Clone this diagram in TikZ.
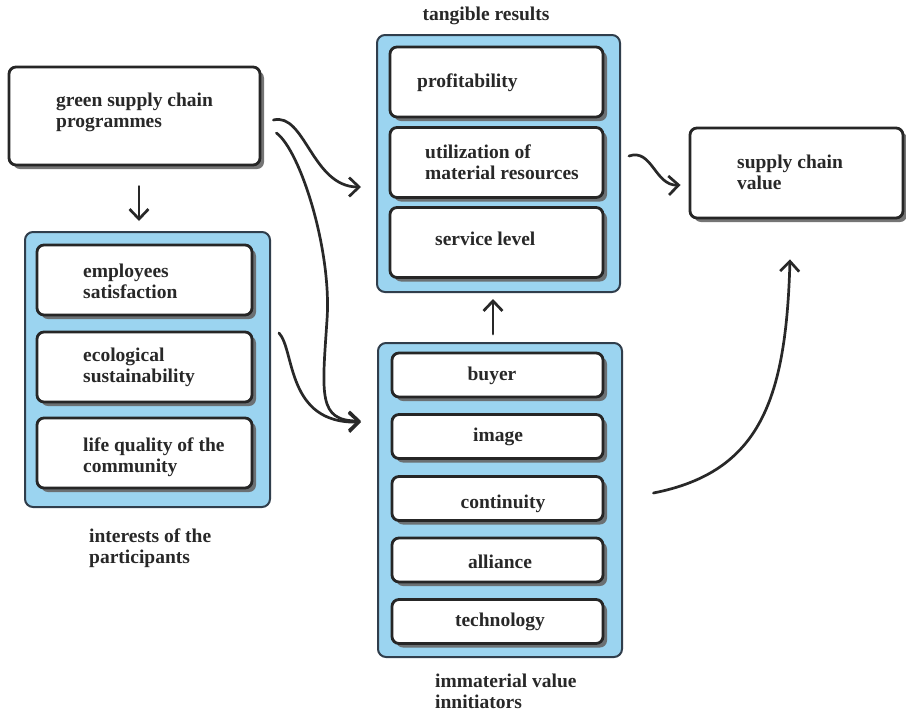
\documentclass[tikz,border=0pt]{standalone}
\usepackage{fontspec}
\setmainfont{Liberation Serif}
\usetikzlibrary{calc,shadows,arrows.meta}
\definecolor{panelblue}{RGB}{155,212,240}
\definecolor{paneledge}{RGB}{48,62,76}
\definecolor{boxedge}{RGB}{38,38,38}
\definecolor{inkcol}{RGB}{40,40,40}
\tikzset{
  panel/.style={draw=paneledge, fill=panelblue, line width=2pt, rounded corners=8pt, inner sep=0pt},
  itembox/.style={draw=boxedge, fill=white, line width=2.8pt, rounded corners=7pt, inner sep=0pt,
    drop shadow={shadow xshift=4pt, shadow yshift=-4pt, fill=black!60, opacity=0.9}},
  txt/.style={font=\bfseries, text=inkcol, align=left, inner sep=0pt},
  flow/.style={draw=inkcol, line width=2.7pt, line cap=round,
    -{Straight Barb[length=10pt,width=19pt,line width=2.7pt]}},
}
\begin{document}
\fontsize{19.5}{21}\selectfont
\begin{tikzpicture}[x=1pt,y=-1pt]
\useasboundingbox[fill=white] (0,0) rectangle (906,713);

% starting programme box
\node[itembox, minimum width=251pt, minimum height=98pt] (green) at (134.5,116) {};
\node[txt, anchor=west] (greent) at (56,112.5) {green supply chain\\programmes};

% interests of the participants
\node[panel, minimum width=245pt, minimum height=275pt] (left) at (147.5,369.5) {};
\node[itembox, minimum width=215pt, minimum height=70pt] (emp) at (144.5,280) {};
\node[itembox, minimum width=215pt, minimum height=70pt] (eco) at (144.5,367) {};
\node[itembox, minimum width=215pt, minimum height=70pt] (life) at (144.5,453) {};
\node[txt, anchor=west] (empt) at (83,281) {employees\\satisfaction};
\node[txt, anchor=west] (ecot) at (83,367.5) {ecological\\sustainability};
\node[txt, anchor=west] (lifet) at (83,457.5) {life quality of the\\community};
\node[txt, anchor=west] (leftlab) at (89,548.5) {interests of the\\participants};

% tangible results
\node[panel, minimum width=243pt, minimum height=257pt] (tang) at (498.5,163.5) {};
\node[itembox, minimum width=213pt, minimum height=70pt] (prof) at (496.5,82) {};
\node[itembox, minimum width=213pt, minimum height=70pt] (util) at (496.5,162.5) {};
\node[itembox, minimum width=213pt, minimum height=70pt] (serv) at (496.5,242.5) {};
\node[txt, anchor=west] (proft) at (417,82.5) {profitability};
\node[txt, anchor=west] (utilt) at (425,162.5) {utilization of\\material resources};
\node[txt, anchor=west] (servt) at (435,238.5) {service level};
\node[txt] (tanglab) at (486,16) {tangible results};

% immaterial value initiators
\node[panel, minimum width=244pt, minimum height=314pt] (imm) at (500,500) {};
\node[itembox, minimum width=211pt, minimum height=44pt] (buyer) at (497.5,375) {};
\node[itembox, minimum width=211pt, minimum height=44pt] (image) at (497.5,436.5) {};
\node[itembox, minimum width=211pt, minimum height=44pt] (cont) at (497.5,498.5) {};
\node[itembox, minimum width=211pt, minimum height=44pt] (alli) at (497.5,560) {};
\node[itembox, minimum width=211pt, minimum height=44pt] (tech) at (497.5,621.5) {};
\node[txt] (buyert) at (492,375.5) {buyer};
\node[txt] (imaget) at (498,437) {image};
\node[txt] (contt) at (503,504) {continuity};
\node[txt] (allit) at (500,561.5) {alliance};
\node[txt] (techt) at (500,622) {technology};
\node[txt, anchor=west] (immlab) at (435,691) {immaterial value\\innitiators};

% supply chain value
\node[itembox, minimum width=213pt, minimum height=90pt] (scv) at (796.5,173) {};
\node[txt, anchor=west] (scvt) at (737,172.5) {supply chain\\value};

% connectors
\draw[flow] ($(green.south)+(4.5,20)$) -- ($(left.north)+(-8.5,-10)$);
\draw[flow] ($(imm.north)+(-7,-8)$) -- ($(tang.south)+(-5.5,6)$);
\draw[flow] ($(green.east)+(12,4)$) .. controls (305,112) and (312,187) .. ($(tang.west)+(-15,23.5)$);
\draw[flow] ($(green.east)+(15,17)$) .. controls (300,150) and (332,250) .. (327,320)
  .. controls (322,395) and (318,421) .. ($(imm.west)+(-16,-79)$);
\draw[flow] ($(left.east)+(8,-36.5)$) .. controls (295,350) and (286,424) .. ($(imm.west)+(-16,-78)$);
\draw[flow] ($(tang.east)+(8,-7.5)$) .. controls (652,148) and (655,186) .. ($(scv.west)+(-8,12)$);
\draw[flow] ($(cont.east)+(49,-5.5)$) .. controls (760,472) and (786,400) .. ($(scv.south)+(-6.5,40)$);
\end{tikzpicture}
\end{document}
